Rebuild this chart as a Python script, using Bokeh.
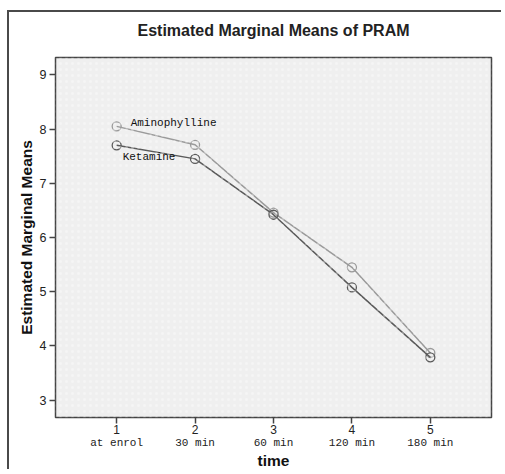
from bokeh.plotting import figure
from bokeh.models import (Range1d, FixedTicker, LinearAxis, Label, BoxAnnotation, Title)
from bokeh.embed import file_html
from bokeh.resources import INLINE

times = [1, 2, 3, 4, 5]
time_labels = ["at enrol", "30 min", "60 min", "120 min", "180 min"]
aminophylline = [8.05, 7.71, 6.46, 5.45, 3.87]
ketamine = [7.70, 7.45, 6.42, 5.08, 3.79]
y_ticks = [3, 4, 5, 6, 7, 8, 9]
title_text = "Estimated Marginal Means of PRAM"

X0, X1 = 0.22, 5.78
Y0, Y1 = 2.68, 9.32

W, H = 494, 459
p = figure(width=W, height=H, output_backend="svg", toolbar_location=None,
           x_range=Range1d(X0, X1), y_range=Range1d(Y0, Y1),
           min_border_left=46, min_border_right=12, min_border_top=45,
           min_border_bottom=52)
# outer frame of the original chart (only top/left edges visible)
p.styles = {"margin-left": "7px", "margin-top": "10px",
            "border-left": "2px solid #4a4a4a", "border-top": "2px solid #4a4a4a"}
p.background_fill_color = "#efefef"
p.border_fill_color = "white"
p.outline_line_color = "#444444"
p.outline_line_width = 1.5
p.grid.visible = False

p.title.text = title_text
p.title.align = "center"
p.title.offset = 10
p.title.text_font = "Liberation Sans"
p.title.text_font_size = "16px"
p.title.text_font_style = "bold"
p.title.text_color = "#222222"
# small spacer panel between title and frame
p.add_layout(Title(text=" ", text_font_size="2px"), "above")

# texture
p.add_layout(BoxAnnotation(fill_color="#efefef", fill_alpha=0, line_color=None,
                           hatch_pattern=".", hatch_color="white", hatch_alpha=0.35,
                           hatch_scale=6))

# axes
xa = p.xaxis[0]
xa.ticker = FixedTicker(ticks=times)
xa.minor_tick_line_color = None
xa.major_tick_out = 6
xa.major_tick_in = 0
xa.axis_line_color = "#444444"
xa.major_tick_line_color = "#444444"
xa.major_tick_line_width = 1.5
xa.major_label_text_font = "Liberation Sans"
xa.major_label_text_font_size = "12px"
xa.major_label_text_color = "#222222"
xa.major_label_standoff = 1

xa2 = LinearAxis(ticker=FixedTicker(ticks=times),
                 major_label_overrides={t: l for t, l in zip(times, time_labels)})
xa2.axis_line_color = None
xa2.major_tick_line_color = None
xa2.minor_tick_line_color = None
xa2.major_tick_out = 0
xa2.major_tick_in = 0
xa2.major_label_standoff = 0
xa2.major_label_text_font = "Liberation Mono"
xa2.major_label_text_font_size = "11px"
xa2.major_label_text_color = "#222222"
xa2.axis_label = "time"
xa2.axis_label_text_font = "Liberation Sans"
xa2.axis_label_text_font_size = "15.5px"
xa2.axis_label_text_font_style = "bold"
xa2.axis_label_text_color = "#111111"
xa2.axis_label_standoff = 0
p.add_layout(xa2, "below")

ya = p.yaxis[0]
ya.ticker = FixedTicker(ticks=y_ticks)
ya.minor_tick_line_color = None
ya.major_tick_out = 6
ya.major_tick_in = 0
ya.axis_line_color = "#444444"
ya.major_tick_line_color = "#444444"
ya.major_tick_line_width = 1.5
ya.major_label_text_font = "Liberation Sans"
ya.major_label_text_font_size = "12.5px"
ya.major_label_text_color = "#222222"
ya.major_label_standoff = 3
ya.axis_label = "Estimated Marginal Means"
ya.axis_label_text_font = "Liberation Sans"
ya.axis_label_text_font_size = "15.5px"
ya.axis_label_text_font_style = "bold"
ya.axis_label_text_color = "#111111"
ya.axis_label_standoff = 2

amino_c = "#9a9a9a"
ket_c = "#5a5a5a"
p.line(times, aminophylline, line_color=amino_c, line_width=1.5)
p.scatter(times, aminophylline, size=9, fill_color=None, line_color=amino_c, line_width=1.3)
p.line(times, ketamine, line_color=ket_c, line_width=1.5)
p.scatter(times, ketamine, size=9, fill_color=None, line_color=ket_c, line_width=1.3)

p.add_layout(Label(x=times[0], y=aminophylline[0], x_offset=14, y_offset=3,
                   text="Aminophylline", text_font="Liberation Mono",
                   text_font_size="11px", text_color="#111111", text_baseline="middle"))
p.add_layout(Label(x=times[0], y=ketamine[0], x_offset=6, y_offset=-12,
                   text="Ketamine", text_font="Liberation Mono",
                   text_font_size="11px", text_color="#111111", text_baseline="middle"))

open("out.html", "w").write(file_html(p, INLINE))
